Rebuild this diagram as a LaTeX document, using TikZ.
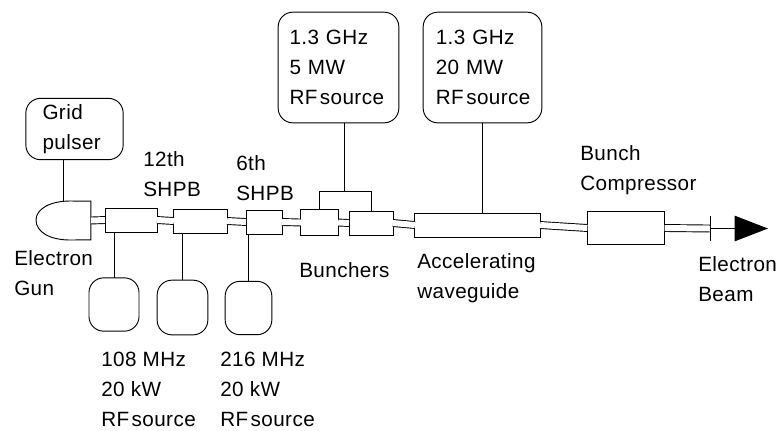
\documentclass[tikz,border=0pt]{standalone}
\usepackage{fontspec}
\setmainfont[LetterSpace=2]{Liberation Sans}
\usepackage{tikz}
\usetikzlibrary{arrows.meta,positioning}
\newcommand{\rfname}{RF\hspace{0.12em}source}

\begin{document}
\begin{tikzpicture}[
  x=0.75pt, y=-0.75pt,
  font=\fontsize{15.5}{22.5}\selectfont,
  box/.style={draw, line width=0.7pt, inner sep=0pt, outer sep=0pt},
  src/.style={box, rounded corners=11pt},
  lbl/.style={anchor=west, align=left, inner sep=0pt},
  link/.style={line width=0.6pt},
  pipe/.style={double, double distance=4.5pt, line width=0.7pt},
  beam/.style={line width=1.2pt, -{Triangle[length=25pt, width=19pt]}}]
\useasboundingbox (0,0) rectangle (780,430);
% ---- beam line ----
\node[box, draw=none, minimum width=41pt, minimum height=29pt] (gun) at (63.5,220.5) {};
\draw[box] (gun.north east) -- (gun.south east) -- (70,240)
  .. controls (50,240) and (36,232) .. (36,220)
  .. controls (36,209) and (50,201) .. (70,201) -- cycle;
\node[box, minimum width=39pt, minimum height=18pt] (shpba) at (131,220) {};
\node[box, minimum width=40pt, minimum height=18pt] (shpbb) at (200.5,221) {};
\node[box, minimum width=27pt, minimum height=18pt] (shpbc) at (264,222) {};
\node[box, minimum width=28pt, minimum height=19pt] (bunch) at (319.5,222.5) {};
\node[box, minimum width=33pt, minimum height=18pt] (bunchb) at (371,223) {};
\node[box, minimum width=94pt, minimum height=18pt] (wave) at (477.5,225) {};
\node[box, minimum width=58pt, minimum height=25pt] (comp) at (626,228) {};
\coordinate (stopt) at (710,216);
\coordinate (stopb) at (710,241);
\coordinate (stop) at (710,228.5);
\coordinate (tip) at (768,228.5);
\draw[pipe] (gun.east) -- (shpba.west);
\draw[pipe] (shpba.east) -- (shpbb.west);
\draw[pipe] (shpbb.east) -- (shpbc.west);
\draw[pipe] (shpbc.east) -- (bunch.west);
\draw[pipe] (bunch.east) -- (bunchb.west);
\draw[pipe] (bunchb.east) -- (wave.west);
\draw[pipe] (wave.east) -- (comp.west);
\draw[pipe] (comp.east) -- (stop);
\draw[link] (stopt) -- (stopb);
\draw[beam] (stop) -- (tip);
% ---- sources ----
\node[src, inner xsep=12.5pt, text width=48pt, minimum height=46pt, align=left] (grid) at (74.5,129) {Grid\\pulser};
\node[src, inner xsep=8.5pt, text width=73.5pt, minimum height=83pt, align=left] (rfa) at (338.5,67.5) {1.3 GHz\\5 MW\\\rfname};
\node[src, inner xsep=8.5pt, text width=72pt, minimum height=83pt, align=left] (rfb) at (482.5,67.5) {\hspace{1pt}1.3 GHz\\\hspace{1pt}20 MW\\\hspace{1pt}\rfname};
\node[src, minimum width=37.5pt, minimum height=40pt] (rfc) at (114,304.5) {};
\node[src, minimum width=38pt, minimum height=41pt] (rfd) at (182.5,307.5) {};
\node[src, minimum width=35pt, minimum height=40pt] (rfe) at (248.5,308) {};
% ---- feeds ----
\draw[link] (grid.south -| gun.north) -- (gun.north);
\draw[link] (rfa.south -| 344,0) -- (344,191) coordinate (feed);
\draw[link] (bunch.north) |- (feed) -| (bunchb.north);
\draw[link] (rfb.south) -- (rfb.south |- wave.north);
\draw[link] (shpba.south -| rfc.north) -- (rfc.north);
\draw[link] (shpbb.south -| rfd.north) -- (rfd.north);
\draw[link] (shpbc.south -| rfe.north) -- (rfe.north);
% ---- labels ----
\node[lbl] (lgun) at (14,273) {Electron\\Gun};
\node[lbl] (lshpba) at (143,174) {12th\\SHPB};
\node[lbl] (lshpbc) at (236,178) {6th\\SHPB};
\node[lbl] (lbunch) at (299,270) {Bunchers};
\node[lbl] (lwave) at (417,278) {Accelerating\\waveguide};
\node[lbl] (lcomp) at (580,170) {Bunch\\Compressor};
\node[lbl] (lbeam) at (698,279) {Electron\\Beam};
\node[lbl] (lrfc) at (101,389) {108 MHz\\20 kW\\\rfname};
\node[lbl] (lrfe) at (220,389) {216 MHz\\20 kW\\\rfname};
\end{tikzpicture}
\end{document}
